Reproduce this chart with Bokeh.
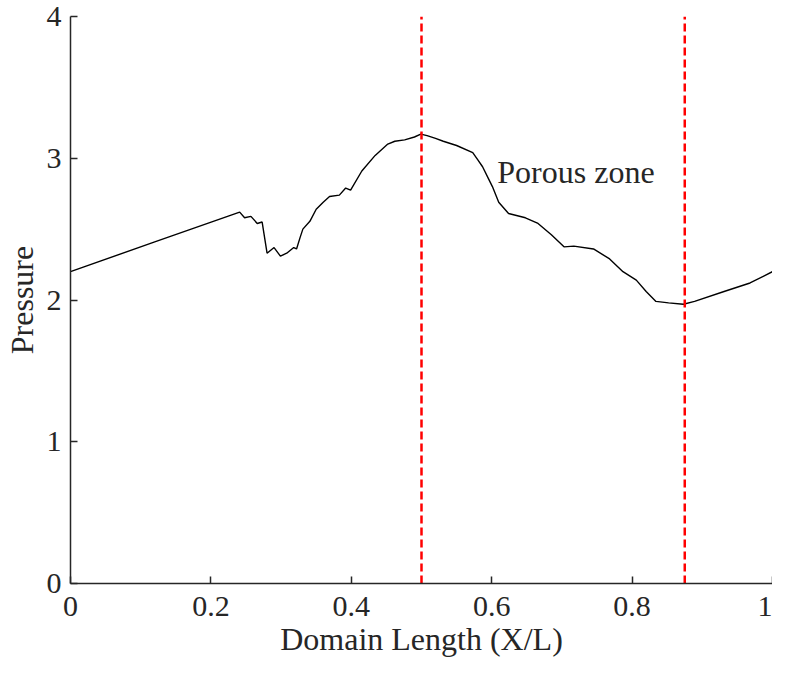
from bokeh.plotting import figure
from bokeh.models import Range1d, FixedTicker
from bokeh.core.properties import value
from bokeh.embed import file_html
from bokeh.resources import INLINE

# Pressure profile along the domain
x_pos = [0.0, 0.12, 0.241, 0.248, 0.257, 0.266, 0.273, 0.280, 0.290, 0.299, 0.308,
         0.318, 0.322, 0.327, 0.331, 0.341, 0.350, 0.360, 0.369, 0.383, 0.392, 0.399,
         0.415, 0.434, 0.452, 0.462, 0.476, 0.490, 0.499, 0.508, 0.520, 0.531, 0.550,
         0.573, 0.580, 0.587, 0.595, 0.601, 0.610, 0.624, 0.648, 0.666, 0.685, 0.703,
         0.717, 0.745, 0.768, 0.787, 0.806, 0.820, 0.834, 0.852, 0.873, 0.889, 0.931,
         0.968, 1.0]
pressure = [2.20, 2.41, 2.62, 2.58, 2.59, 2.54, 2.55, 2.33, 2.37, 2.31, 2.33,
            2.37, 2.36, 2.44, 2.50, 2.555, 2.64, 2.69, 2.73, 2.74, 2.79, 2.775,
            2.91, 3.02, 3.10, 3.12, 3.13, 3.15, 3.17, 3.16, 3.14, 3.12, 3.09,
            3.04, 2.99, 2.94, 2.86, 2.80, 2.69, 2.61, 2.58, 2.54, 2.46, 2.375,
            2.38, 2.36, 2.29, 2.20, 2.14, 2.06, 1.99, 1.98, 1.97, 1.99, 2.06,
            2.12, 2.20]

# Porous zone boundaries
zone_x = [0.5, 0.875]
zone_y0 = [0, 0]
zone_y1 = [4, 4]

x_ticks = [0, 0.2, 0.4, 0.6, 0.8, 1]
x_tick_labels = {0: "0", 0.2: "0.2", 0.4: "0.4", 0.6: "0.6", 0.8: "0.8", 1: "1"}
y_ticks = [0, 1, 2, 3, 4]

annotation = "Porous zone"
annotation_x = 0.608
annotation_y = 2.90

x_title = "Domain Length (X/L)"
y_title = "Pressure"

FONT = "Liberation Serif"
TXT = "#262626"

p = figure(width=772, height=659, output_backend="svg", toolbar_location=None,
           x_range=Range1d(0, 1), y_range=Range1d(0, 4),
           min_border_left=67, min_border_right=0, min_border_top=16,
           min_border_bottom=72)
p.outline_line_color = None
p.grid.visible = False
p.background_fill_color = "white"
p.border_fill_color = "white"

p.line(x_pos, pressure, line_color="black", line_width=1.4)
p.segment(x0=zone_x, y0=zone_y0, x1=zone_x, y1=zone_y1,
          line_color="#ff0000", line_width=2.5, line_dash="8 4")
p.text(x=[annotation_x], y=[annotation_y], text=[annotation],
       text_font=value(FONT), text_font_size="32px", text_color=TXT,
       text_baseline="alphabetic", text_align="left")

for ax in (p.xaxis[0], p.yaxis[0]):
    ax.axis_line_color = "#262626"
    ax.axis_line_width = 1.5
    ax.major_tick_line_color = "#262626"
    ax.major_tick_line_width = 1.5
    ax.major_tick_in = 7
    ax.major_tick_out = 0
    ax.minor_tick_line_color = None
    ax.major_label_text_font = FONT
    ax.major_label_text_font_size = "30px"
    ax.major_label_text_color = TXT
    ax.axis_label_text_font = FONT
    ax.axis_label_text_font_size = "32px"
    ax.axis_label_text_font_style = "normal"
    ax.axis_label_text_color = TXT

p.xaxis.ticker = FixedTicker(ticks=x_ticks)
p.xaxis.major_label_overrides = x_tick_labels
p.yaxis.ticker = FixedTicker(ticks=y_ticks)
p.xaxis.axis_label = x_title
p.yaxis.axis_label = y_title
p.xaxis.major_label_standoff = 13
p.xaxis.axis_label_standoff = 2
p.xaxis.axis_label_text_line_height = 0.6
p.yaxis.major_label_standoff = 9
p.yaxis.axis_label_standoff = 4

open("out.html", "w").write(file_html(p, INLINE))
